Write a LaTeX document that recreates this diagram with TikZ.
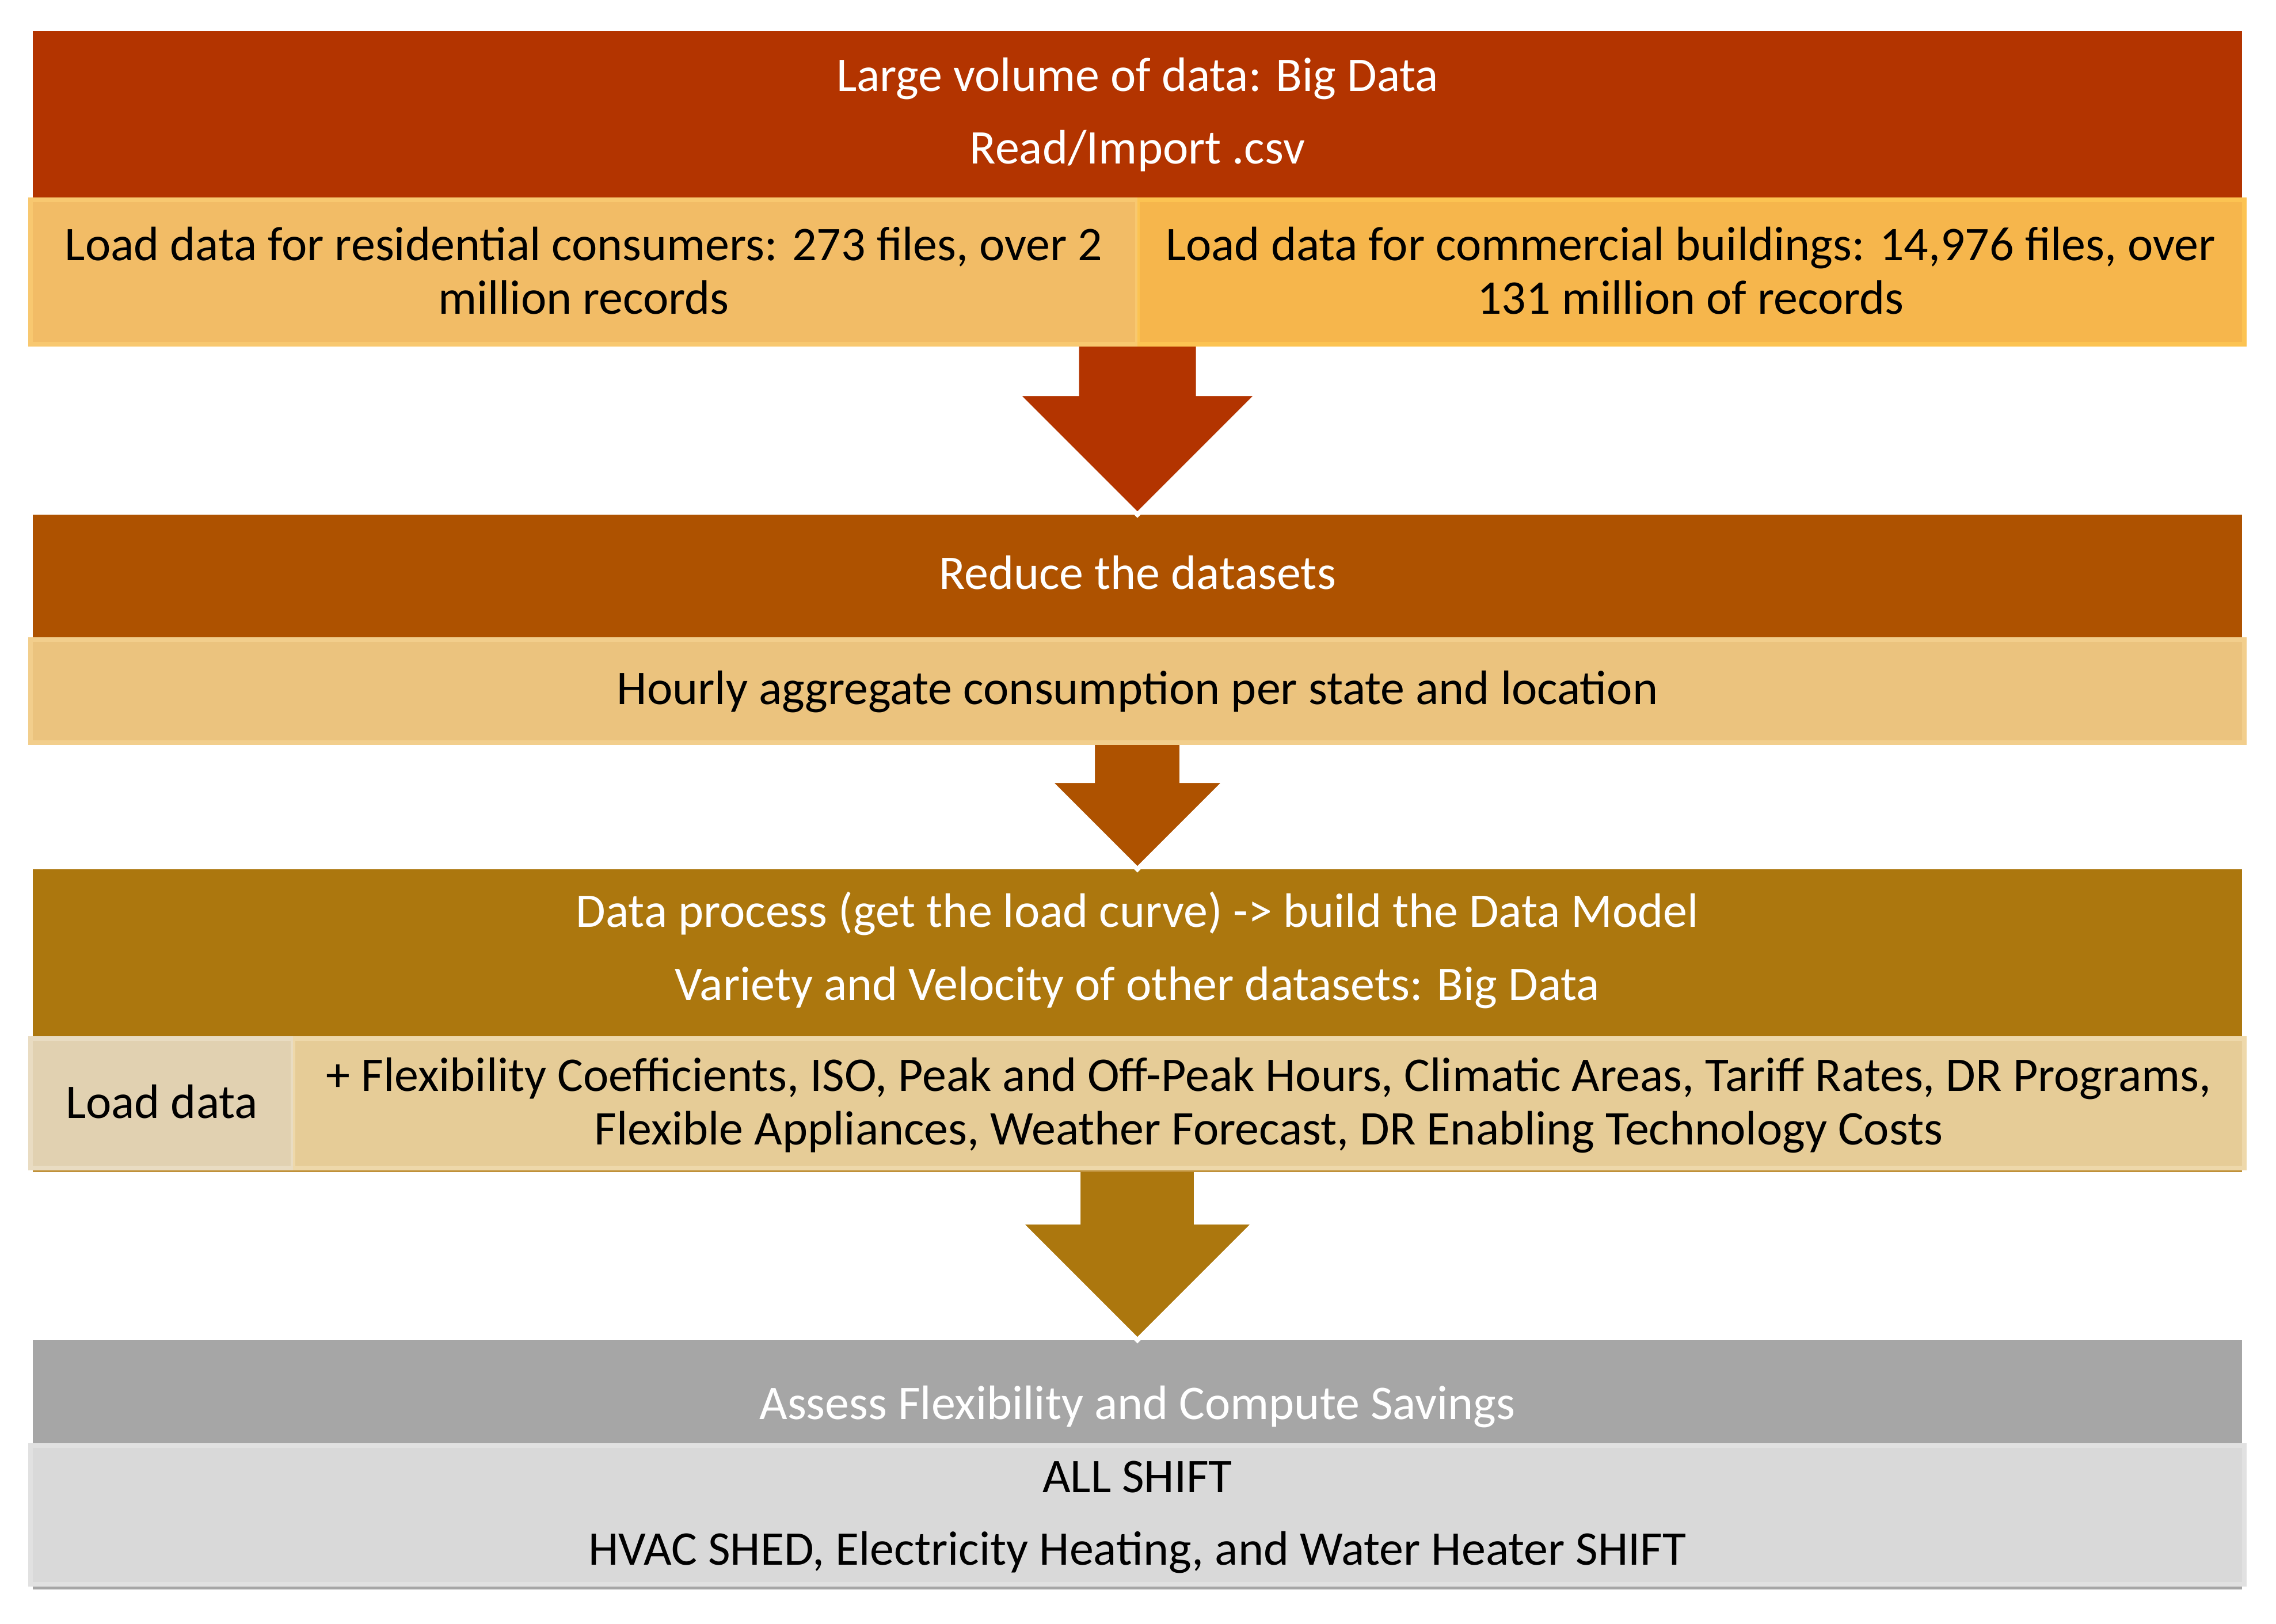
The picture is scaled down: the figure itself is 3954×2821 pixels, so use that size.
\documentclass[tikz,border=0pt]{standalone}
\usepackage{fontspec}
\setmainfont{Carlito}
\definecolor{cRed}{HTML}{B33400}
\definecolor{cBrown}{HTML}{AE5200}
\definecolor{cGold}{HTML}{AC770E}
\definecolor{cGray}{HTML}{A6A6A6}
\definecolor{fOrL}{HTML}{F2BC66}
\definecolor{bOrL}{HTML}{F8C870}
\definecolor{fOrR}{HTML}{F6B64C}
\definecolor{bOrR}{HTML}{FCC352}
\definecolor{fSand}{HTML}{EBC37E}
\definecolor{bSand}{HTML}{F2CE8C}
\definecolor{fBeigeL}{HTML}{E1D1B1}
\definecolor{bBeigeL}{HTML}{E9DCC2}
\definecolor{fBeigeR}{HTML}{E6CC97}
\definecolor{bBeigeR}{HTML}{EED8AA}
\definecolor{fLight}{HTML}{D9D9D9}
\definecolor{bLight}{HTML}{E1E1E1}
\definecolor{lGold}{HTML}{C0913A}
\begin{document}
\begin{tikzpicture}[x=0.05mm,y=-0.05mm,
  txt/.style={inner sep=0pt, anchor=base, font=\fontsize{11.95}{13.2}\selectfont},
  wtxt/.style={txt,text=white},
  btxt/.style={txt,text=black},
  blockarrow/.style={draw=white,line width=0.4mm,line join=miter,miter limit=10}]
\useasboundingbox[fill=white] (0,0) rectangle (3954,2821);

% ---- stage 1 ----
\fill[cRed] (57,54) rectangle (3895,343);
\fill[bOrL] (49,343) rectangle (1976,602);
\fill[fOrL] (57,351) rectangle (1972,594);
\fill[bOrR] (1976,343) rectangle (3903,602);
\fill[fOrR] (1980,351) rectangle (3895,594);
\node[wtxt] (h1a) at (1976,158) {Large volume of data: Big Data};
\node[wtxt] (h1b) at (1976,285) {Read/Import .csv};
\node[btxt] (r1la) at (1014,452) {Load data for residential consumers: 273 files, over 2};
\node[btxt] (r1lb) at (1014,545) {million records};
\node[btxt] (r1ra) at (2937,452) {Load data for commercial buildings: 14,976 files, over};
\node[btxt] (r1rb) at (2937,545) {131 million of records};

% ---- stage 2 ----
\fill[cBrown] (57,894) rectangle (3895,1107);
\fill[bSand] (49,1107) rectangle (3903,1294);
\fill[fSand] (57,1115) rectangle (3895,1286);
\node[wtxt] (h2) at (1976,1023) {Reduce the datasets};
\node[btxt] (r2) at (1976,1223) {Hourly aggregate consumption per state and location};

% ---- stage 3 ----
\fill[cGold] (57,1510) rectangle (3895,1800);
\fill[bBeigeL] (49,1800) rectangle (509,2033);
\fill[fBeigeL] (57,1808) rectangle (505,2025);
\fill[bBeigeR] (509,1800) rectangle (3903,2033);
\fill[fBeigeR] (513,1808) rectangle (3895,2025);
\fill[lGold] (57,2033) rectangle (3895,2036);
\node[wtxt] (h3a) at (1976,1610) {Data process (get the load curve) -> build the Data Model};
\node[wtxt] (h3b) at (1976,1737) {Variety and Velocity of other datasets: Big Data};
\node[btxt] (r3l) at (281,1942) {Load data};
\node[btxt] (r3ra) at (2204,1895) {+ Flexibility Coefficients, ISO, Peak and Off-Peak Hours, Climatic Areas, Tariff Rates, DR Programs,};
\node[btxt] (r3rb) at (2204,1988) {Flexible Appliances, Weather Forecast, DR Enabling Technology Costs};

% ---- stage 4 ----
\fill[cGray] (57,2328) rectangle (3895,2507);
\fill[bLight] (49,2507) rectangle (3903,2756);
\fill[fLight] (57,2515) rectangle (3895,2748);
\fill[cGray] (57,2756) rectangle (3895,2761);
\node[wtxt] (h4) at (1976,2465) {Assess Flexibility and Compute Savings};
\node[btxt] (r4a) at (1976,2592) {ALL SHIFT};
\node[btxt] (r4b) at (1976,2718) {HVAC SHED, Electricity Heating, and Water Heater SHIFT};

% ---- block arrows ----
\filldraw[blockarrow, fill=cRed] (1870.5,602) -- (1870.5,684) -- (1766,684) -- (1976,894) -- (2186,684) -- (2081.5,684) -- (2081.5,602);
\filldraw[blockarrow, fill=cBrown] (1898,1294) -- (1898,1356) -- (1822,1356) -- (1976,1510) -- (2130,1356) -- (2053,1356) -- (2053,1294);
\filldraw[blockarrow, fill=cGold] (1873,2036) -- (1873,2123) -- (1771,2123) -- (1976,2328) -- (2181,2123) -- (2078,2123) -- (2078,2036);
\end{tikzpicture}
\end{document}
